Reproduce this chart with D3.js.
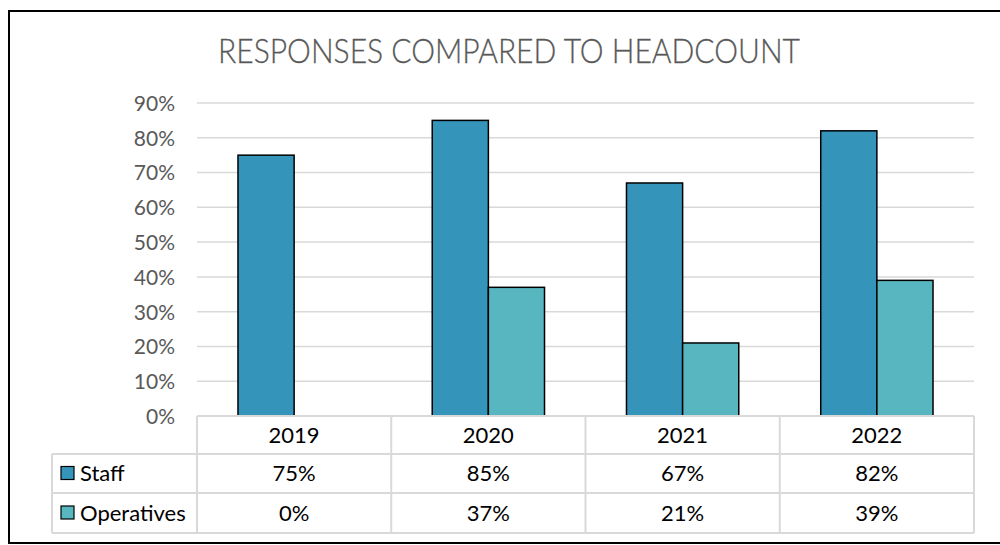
<!DOCTYPE html>
<html>
<head>
<meta charset="utf-8">
<script src="https://cdn.jsdelivr.net/npm/d3@7"></script>
<style>
  html, body { margin: 0; padding: 0; background: #fff; }
  svg { display: block; font-family: Lato, "Open Sans", sans-serif; }
</style>
</head>
<body>
<svg id="chart" width="1000" height="545"></svg>
<script>
// Response rate by year for each group
const years = ["2019", "2020", "2021", "2022"];
const seriesNames = ["Staff", "Operatives"];
const staff = [0.75, 0.85, 0.67, 0.82];
const operatives = [0.00, 0.37, 0.21, 0.39];
const yTicks = [0, 0.1, 0.2, 0.3, 0.4, 0.5, 0.6, 0.7, 0.8, 0.9];
const colors = ["#3494BA", "#58B6C0"];

const seriesValues = [staff, operatives];

const svg = d3.select("#chart");

// outer frame
svg.append("rect")
  .attr("x", 9).attr("y", 11)
  .attr("width", 1000).attr("height", 532)
  .attr("fill", "none").attr("stroke", "#000").attr("stroke-width", 2);

// title
svg.append("text")
  .attr("x", 509).attr("y", 63)
  .attr("text-anchor", "middle")
  .attr("fill", "#595959")
  .style("font-size", "34px")
  .style("font-weight", 300)
  .attr("stroke", "#595959").attr("stroke-width", 0.3)
  .attr("textLength", 582)
  .attr("lengthAdjust", "spacingAndGlyphs")
  .text("RESPONSES COMPARED TO HEADCOUNT");

const plot = { left: 197, right: 974, top: 103, bottom: 416 };

const x = d3.scaleBand().domain(years).range([plot.left, plot.right]).paddingInner(0).paddingOuter(0);
const inner = d3.scaleBand().domain(seriesNames).range([0, x.bandwidth()]).paddingInner(0).paddingOuter(0.73);
const y = d3.scaleLinear().domain([0, 0.9]).range([plot.bottom, plot.top]);

// gridlines
svg.append("g").selectAll("line").data(yTicks.filter(t => t > 0)).join("line")
  .attr("x1", plot.left).attr("x2", plot.right)
  .attr("y1", d => y(d)).attr("y2", d => y(d))
  .attr("stroke", "#d9d9d9").attr("stroke-width", 1.5);

// y axis labels
const yAxis = d3.axisLeft(y).tickValues(yTicks).tickFormat(d3.format(".0%")).tickSize(0).tickPadding(0);
const ya = svg.append("g").attr("transform", `translate(175,0)`).call(yAxis);
ya.select(".domain").remove();
ya.selectAll("text")
  .attr("fill", "#595959")
  .style("font-size", "21px")
  .style("font-family", "Lato, sans-serif")
  .attr("dy", "0.35em");

// bars
const groups = svg.append("g").selectAll("g").data(years).join("g")
  .attr("transform", d => `translate(${x(d)},0)`);
groups.selectAll("rect")
  .data((d, i) => seriesNames.map((s, j) => ({ s, j, v: seriesValues[j][i] })))
  .join("rect")
  .filter(d => d.v > 0)
  .attr("x", d => inner(d.s))
  .attr("width", inner.bandwidth())
  .attr("y", d => y(d.v))
  .attr("height", d => y(0) - y(d.v))
  .attr("fill", d => colors[d.j])
  .attr("stroke", "#000").attr("stroke-width", 1.5);

// data table
const rowEdges = [416, 454, 493, 533];
const legendLeft = 52;
const gridColor = "#d9d9d9";
const tbl = svg.append("g").attr("stroke", gridColor).attr("stroke-width", 2);

// horizontal lines
tbl.append("line").attr("x1", plot.left).attr("x2", plot.right).attr("y1", rowEdges[0]).attr("y2", rowEdges[0]);
[1, 2, 3].forEach(r => {
  tbl.append("line").attr("x1", legendLeft).attr("x2", plot.right)
    .attr("y1", rowEdges[r]).attr("y2", rowEdges[r]);
});
// vertical lines
tbl.append("line").attr("x1", legendLeft).attr("x2", legendLeft).attr("y1", rowEdges[1]).attr("y2", rowEdges[3]);
years.forEach(yr => {
  tbl.append("line").attr("x1", x(yr)).attr("x2", x(yr)).attr("y1", rowEdges[0]).attr("y2", rowEdges[3]);
});
tbl.append("line").attr("x1", plot.right).attr("x2", plot.right).attr("y1", rowEdges[0]).attr("y2", rowEdges[3]);

const cellText = (tx, ty, txt, anchor) => svg.append("text")
  .attr("x", tx).attr("y", ty).attr("text-anchor", anchor || "middle")
  .attr("dy", "0.35em").attr("fill", "#000")
  .style("font-size", "22px").text(txt);

years.forEach((yr, i) => {
  const cx = x(yr) + x.bandwidth() / 2;
  cellText(cx, (rowEdges[0] + rowEdges[1]) / 2, yr);
  seriesValues.forEach((vals, j) => {
    cellText(cx, (rowEdges[j + 1] + rowEdges[j + 2]) / 2, d3.format(".0%")(vals[i]));
  });
});

// legend keys in the table
seriesNames.forEach((s, j) => {
  const cy = (rowEdges[j + 1] + rowEdges[j + 2]) / 2;
  svg.append("rect")
    .attr("x", 61).attr("y", cy - 7).attr("width", 13).attr("height", 13)
    .attr("fill", colors[j]).attr("stroke", "#000").attr("stroke-width", 1.2);
  cellText(80, cy, s, "start");
});
</script>
</body>
</html>
